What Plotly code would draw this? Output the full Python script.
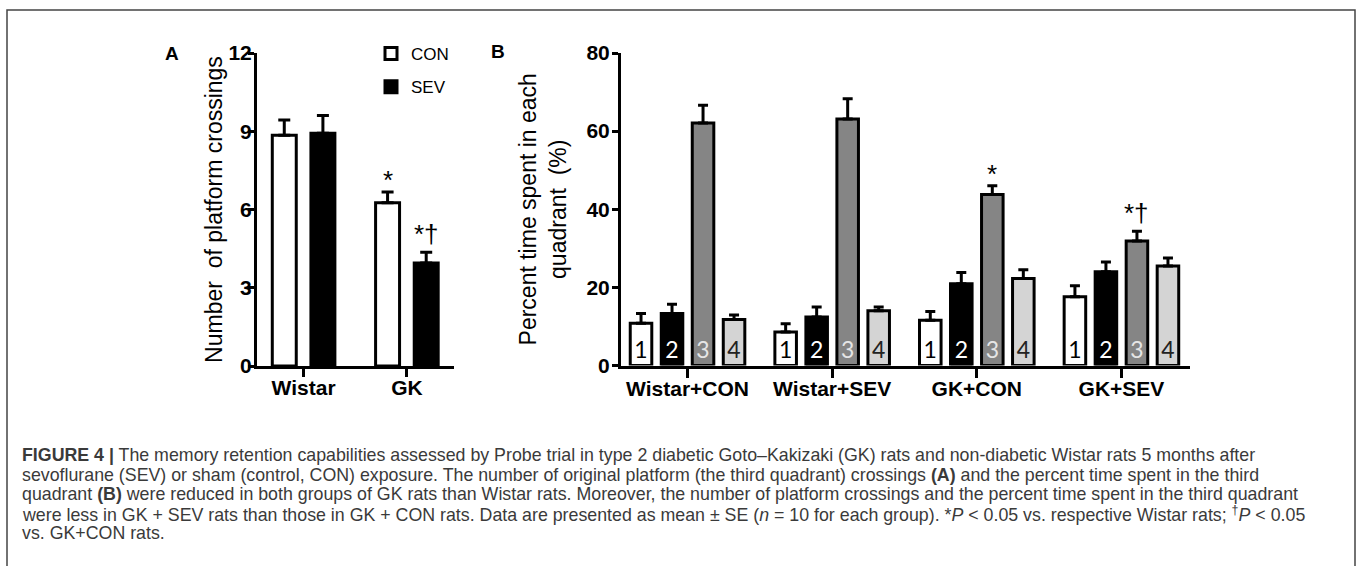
import plotly.graph_objects as go

# ---------------- data ----------------
# Panel A: number of platform crossings
groups_a = ["Wistar", "GK"]
con_mean = [8.85, 6.26]
con_se = [0.58, 0.41]
sev_mean = [8.92, 3.95]
sev_se = [0.68, 0.41]
series_a = ["CON", "SEV"]

# Panel B: percent time spent in each quadrant
groups_b = ["Wistar+CON", "Wistar+SEV", "GK+CON", "GK+SEV"]
q1_mean = [10.8, 8.6, 11.6, 17.6]
q1_se = [2.5, 2.1, 2.2, 2.8]
q2_mean = [13.3, 12.4, 20.9, 24.0]
q2_se = [2.4, 2.6, 2.9, 2.5]
q3_mean = [62.1, 63.1, 43.8, 31.9]
q3_se = [4.5, 5.2, 2.2, 2.5]
q4_mean = [11.8, 14.0, 22.3, 25.5]
q4_se = [1.1, 1.0, 2.2, 2.0]
quadrant_labels = ["1", "2", "3", "4"]

# significance marks: (group, series index, text)
sig_a = [("GK", 0, "*"), ("GK", 1, "*†")]
sig_b = [("GK+CON", 2, "*"), ("GK+SEV", 2, "*†")]

caption_lines = [
    "<b>FIGURE 4 |</b> The memory retention capabilities assessed by Probe trial in type 2 diabetic Goto–Kakizaki (GK) rats and non-diabetic Wistar rats 5 months after",
    "sevoflurane (SEV) or sham (control, CON) exposure. The number of original platform (the third quadrant) crossings <b>(A)</b> and the percent time spent in the third",
    "quadrant <b>(B)</b> were reduced in both groups of GK rats than Wistar rats. Moreover, the number of platform crossings and the percent time spent in the third quadrant",
    "were less in GK + SEV rats than those in GK + CON rats. Data are presented as mean ± SE (<i>n</i> = 10 for each group). *<i>P</i> &lt; 0.05 vs. respective Wistar rats; <sup>†</sup><i>P</i> &lt; 0.05",
    "vs. GK+CON rats.",
]

# ---------------- styling ----------------
W, H = 1357, 566
def fx(p):
    return p / W
def fy(p):
    return 1 - p / H

FONT = "Liberation Sans, Arial, sans-serif"
NUMFONT = "Lato, Open Sans, sans-serif"

fig = go.Figure()

# Panel A
a_fill = ["white", "black"]
a_means = [con_mean, sev_mean]
a_ses = [con_se, sev_se]
a_width = 0.232
a_centers = [-0.187, 0.187]
for i, name in enumerate(series_a):
    fig.add_trace(go.Bar(
        x=groups_a, y=a_means[i], name=name,
        width=a_width, offset=a_centers[i] - a_width / 2,
        marker=dict(color=a_fill[i], line=dict(color="black", width=3)),
        error_y=dict(type="data", array=a_ses[i], arrayminus=[0] * len(groups_a),
                     symmetric=False, color="black", thickness=3, width=6),
        xaxis="x", yaxis="y", legendgroup=name, showlegend=True,
        hoverinfo="y",
    ))

# Panel B
b_fill = ["white", "black", "#858585", "#d4d4d4"]
b_text = ["black", "white", "#e6e6e6", "#222222"]
b_means = [q1_mean, q2_mean, q3_mean, q4_mean]
b_ses = [q1_se, q2_se, q3_se, q4_se]
b_width = 0.149
b_step = 0.2144
for k in range(4):
    c = (k - 1.5) * b_step
    fig.add_trace(go.Bar(
        x=groups_b, y=b_means[k], name="Quadrant " + quadrant_labels[k],
        width=b_width, offset=c - b_width / 2,
        marker=dict(color=b_fill[k], line=dict(color="black", width=3)),
        text=[quadrant_labels[k]] * len(groups_b),
        textposition="inside", insidetextanchor="start", textangle=0,
        constraintext="none",
        textfont=dict(family=NUMFONT, size=23, color=b_text[k]),
        error_y=dict(type="data", array=b_ses[k], arrayminus=[0] * len(groups_b),
                     symmetric=False, color="black", thickness=3, width=5),
        xaxis="x2", yaxis="y2", showlegend=False, cliponaxis=False,
        hoverinfo="y",
    ))

annotations = []
for g, s, txt in sig_a:
    gi = groups_a.index(g)
    annotations.append(dict(
        x=gi + a_centers[s], y=a_means[s][gi] + a_ses[s][gi], xref="x", yref="y",
        text=txt, showarrow=False, yanchor="middle", yshift=12 if txt == "*" else 18,
        font=dict(family=FONT, size=26, color="black")))
for g, k, txt in sig_b:
    gi = groups_b.index(g)
    annotations.append(dict(
        x=gi + (k - 1.5) * b_step, y=b_means[k][gi] + b_ses[k][gi], xref="x2", yref="y2",
        text=txt, showarrow=False, yanchor="middle", yshift=12 if txt == "*" else 18,
        font=dict(family=FONT, size=26, color="black")))

annotations.append(dict(x=fx(172), y=fy(53), xref="paper", yref="paper", text="<b>A</b>",
                        xanchor="center", yanchor="middle",
                        showarrow=False, font=dict(family=FONT, size=19, color="black")))
annotations.append(dict(x=fx(498), y=fy(52), xref="paper", yref="paper", text="<b>B</b>",
                        xanchor="center", yanchor="middle",
                        showarrow=False, font=dict(family=FONT, size=19, color="black")))

for i, line in enumerate(caption_lines):
    annotations.append(dict(x=fx(20), y=fy(455 + 19.5 * i), xref="paper", yref="paper",
                            xanchor="left", yanchor="middle", text=line, showarrow=False,
                            align="left",
                            font=dict(family=FONT, size=17.8, color="#3a3a3a")))

axis_common = dict(showline=True, linecolor="black", linewidth=3, showgrid=False,
                   zeroline=False, ticks="outside", tickcolor="black", mirror=False)

fig.update_layout(
    template="none",
    width=W, height=H, autosize=False,
    margin=dict(l=0, r=0, t=0, b=0),
    paper_bgcolor="white", plot_bgcolor="rgba(0,0,0,0)",
    barmode="group",
    font=dict(family=FONT, color="black"),
    xaxis=dict(axis_common, domain=[fx(257), fx(454)], range=[-0.451, 1.456],
               type="category", categoryarray=groups_a, anchor="y",
               ticklen=8, tickwidth=3, ticklabelstandoff=-7,
               tickfont=dict(family=FONT, size=21, weight="bold", color="black")),
    yaxis=dict(axis_common, domain=[fy(366), fy(53)], range=[0, 12], dtick=3, tick0=0,
               anchor="x", ticklen=6, tickwidth=3, ticklabelstandoff=-8,
               tickfont=dict(family=FONT, size=21, weight="bold", color="black"),
               title=dict(text="Number&nbsp; of platform crossings", standoff=0,
                          font=dict(family=FONT, size=23, color="black"))),
    xaxis2=dict(axis_common, domain=[fx(621), fx(1190)], range=[-0.46, 3.474],
                type="category", categoryarray=groups_b, anchor="y2",
                ticklen=9, tickwidth=3, ticklabelstandoff=-7,
                tickfont=dict(family=FONT, size=21, weight="bold", color="black")),
    yaxis2=dict(axis_common, domain=[fy(365.5), fy(53)], range=[0, 80], dtick=20, tick0=0,
                anchor="x2", ticklen=6, tickwidth=3, ticklabelstandoff=-2,
                tickfont=dict(family=FONT, size=21, weight="bold", color="black"),
                title=dict(text="Percent time spent in each<br>quadrant&nbsp; (%)", standoff=14,
                           font=dict(family=FONT, size=23, color="black"))),
    legend=dict(x=fx(371), y=fy(36), xanchor="left", yanchor="top",
                font=dict(family=FONT, size=17, color="black"),
                bgcolor="rgba(0,0,0,0)", tracegroupgap=8, itemclick=False,
                itemdoubleclick=False),
    annotations=annotations,
    shapes=[dict(type="rect", xref="paper", yref="paper",
                 x0=fx(7), x1=fx(1355), y0=fy(10), y1=-0.2,
                 line=dict(color="#444444", width=1.5), fillcolor="rgba(0,0,0,0)",
                 layer="below")],
)

fig.write_html("out.html", config={"displayModeBar": False},
               post_script="document.body.style.margin='0';document.body.style.overflow='hidden';")
